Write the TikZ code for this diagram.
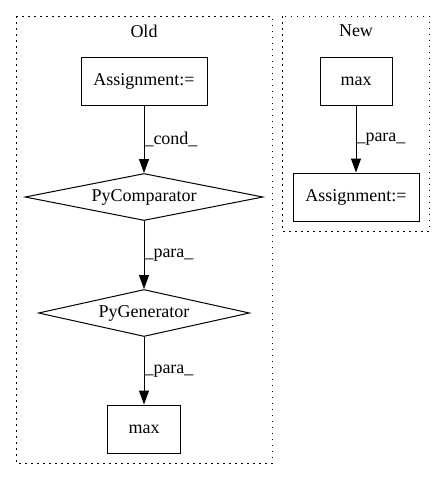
\documentclass[tikz,border=0pt]{standalone}
\usepackage{fontspec}
\setmainfont{Liberation Serif}
\usetikzlibrary{shapes.geometric,arrows.meta}

\begin{document}
\begin{tikzpicture}[x=1pt,y=-1pt,line width=1pt,
  every node/.style={font=\fontsize{18}{22}\selectfont},
  box/.style={draw,rectangle,minimum width=126pt,minimum height=48pt},
  cmp/.style={draw,diamond,shape aspect=5,inner sep=0pt,minimum height=47pt},
  cluster/.style={dash pattern=on 1.5pt off 4.5pt},
  edge/.style={-{Triangle[length=14pt,width=10pt]}},
  lbl/.style={anchor=west,inner sep=0pt}]
\useasboundingbox (0,0) rectangle (445,480);

% clusters
\draw[cluster] (16,16) rectangle (272,463);
\draw[cluster] (282,16) rectangle (429,231);
\node (oldtitle) at (144,31) {Old};
\node (newtitle) at (356,31) {New};

% old
\node[box] (oldassign) at (144,81) {Assignment:=};
\node[cmp,minimum width=238pt] (comp) at (144,197) {PyComparator};
\node[cmp,minimum width=211pt] (gen) at (144,313) {PyGenerator};
\node[box,minimum width=73pt] (oldmax) at (144,429) {max};

% new
\node[box,minimum width=72pt] (newmax) at (356,81) {max};
\node[box] (newassign) at (356,197) {Assignment:=};

\draw[edge] (oldassign) -- node[lbl] {\_cond\_} (comp);
\draw[edge] (comp) -- node[lbl] {\_para\_} (gen);
\draw[edge] (gen) -- node[lbl] {\_para\_} (oldmax);
\draw[edge] (newmax) -- node[lbl] {\_para\_} (newassign);
\end{tikzpicture}
\end{document}
